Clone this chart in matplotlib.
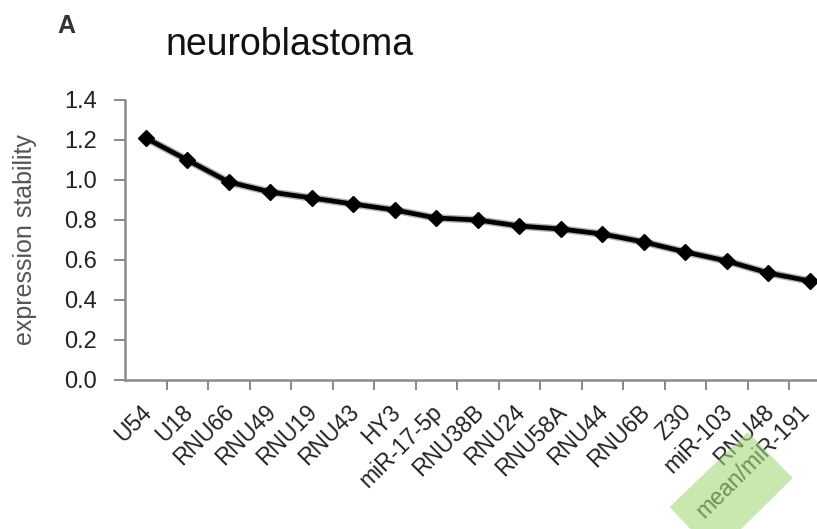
import matplotlib
matplotlib.use('Agg')
import matplotlib.pyplot as plt
import matplotlib.transforms as mtransforms
from matplotlib.patches import Polygon
import numpy as np

plt.rcParams['font.family'] = ['Liberation Sans', 'DejaVu Sans']

# Data
genes = ['U54', 'U18', 'RNU66', 'RNU49', 'RNU19', 'RNU43', 'HY3', 'miR-17-5p',
         'RNU38B', 'RNU24', 'RNU58A', 'RNU44', 'RNU6B', 'Z30', 'miR-103',
         'RNU48', 'mean/miR-191']
stability = [1.21, 1.10, 0.99, 0.94, 0.91, 0.88, 0.85, 0.81,
             0.80, 0.77, 0.755, 0.73, 0.69, 0.64, 0.595, 0.535, 0.495]
yticks = [0.0, 0.2, 0.4, 0.6, 0.8, 1.0, 1.2, 1.4]

W, H = 817, 529
fig = plt.figure(figsize=(W / 100, H / 100), dpi=100)

# axes: left spine at x=125px, 0.0 at y=380px, 1.4 at y=100px, 41.5px per category
cat_w = 41.5
ax_w = len(genes) * cat_w
ax = fig.add_axes([125 / W, (H - 380) / H, ax_w / W, 280 / H])
ax.set_facecolor('none')

x = np.arange(len(genes))
ax.plot(x, stability, color='#666666', linewidth=5.5, alpha=0.5,
        solid_capstyle='round', clip_on=False)
ax.plot(x, stability, color='black', linewidth=3.4, marker='D', markersize=8,
        markerfacecolor='black', markeredgecolor='black', clip_on=False)

ax.set_xlim(-0.5, len(genes) - 0.5)
ax.set_ylim(0, 1.4)
ax.set_yticks(yticks)
ax.set_yticklabels([f'{v:.1f}' for v in yticks], fontsize=17, color='#222222')

# category labels at centres, tick marks at boundaries
ax.set_xticks(x)
ax.set_xticklabels(genes, rotation=45, ha='right', rotation_mode='anchor',
                   fontsize=16.5, color='#222222')
ax.set_xticks(np.arange(len(genes)) + 0.5, minor=True)
ax.tick_params(axis='x', which='major', length=0, pad=14)
ax.tick_params(axis='x', which='minor', length=7, width=1.4, color='#888888')
ax.tick_params(axis='y', length=8, width=1.4, color='#888888', pad=12)

# nudge the rotated labels a little left; the last one a bit more so it fits
labels = ax.get_xticklabels()
for i, lab in enumerate(labels):
    dx = -0.06 if i < len(labels) - 1 else -0.12
    nudge = mtransforms.ScaledTranslation(dx, -0.01, fig.dpi_scale_trans)
    lab.set_transform(lab.get_transform() + nudge)

for side in ['top', 'right']:
    ax.spines[side].set_visible(False)
for side in ['left', 'bottom']:
    ax.spines[side].set_color('#8a8a8a')
    ax.spines[side].set_linewidth(1.8)

ax.set_ylabel('expression stability', fontsize=18, color='#555555')
ax.yaxis.set_label_coords(-88 / ax_w, 0.5)

# green highlight over the last label (offsets in pixels from its tick)
anchor = mtransforms.ScaledTranslation(x[-1], 0, ax.transData)
box = Polygon([(-62, -52), (-17, -98), (-95, -175), (-140, -127)],
              closed=True, facecolor='#a6d97c', alpha=0.6, edgecolor='none',
              transform=anchor, zorder=5)
fig.add_artist(box)

fig.text(290 / W, 1 - 45 / H, 'neuroblastoma', fontsize=27, ha='center',
         va='center', color='#111111')
fig.text(66 / W, 1 - 26 / H, 'A', fontsize=18, fontweight='bold', ha='center',
         va='center', color='#333333')

fig.savefig('out.png', dpi=100)
